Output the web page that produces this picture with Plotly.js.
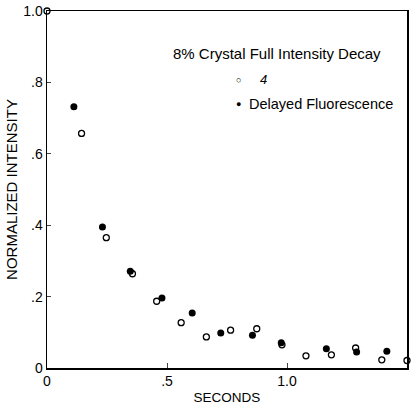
<!DOCTYPE html>
<html><head><meta charset="utf-8">
<script src="https://cdn.plot.ly/plotly-3.0.1.min.js"></script>
<style>html,body{margin:0;padding:0;background:#fff}#chart{width:411px;height:408px}</style>
</head><body><div id="chart"></div>
<script>
// Open circles (full intensity decay)
const openX = [0.0, 0.144, 0.247, 0.356, 0.457, 0.559, 0.664, 0.765, 0.874, 0.979, 1.079, 1.185, 1.286, 1.395, 1.5];
const openY = [1.0, 0.657, 0.365, 0.264, 0.187, 0.127, 0.087, 0.106, 0.110, 0.065, 0.034, 0.037, 0.056, 0.023, 0.021];
// Filled circles (delayed fluorescence)
const fillX = [0.112, 0.231, 0.347, 0.479, 0.605, 0.724, 0.856, 0.976, 1.164, 1.29, 1.416];
const fillY = [0.732, 0.395, 0.271, 0.196, 0.154, 0.098, 0.092, 0.071, 0.054, 0.045, 0.047];
const xTickVals = [0, 0.5, 1.0, 1.5];
const xTickText = ["0", ".5", "1.0", "1.5"];
const yTickVals = [0, 0.2, 0.4, 0.6, 0.8, 1.0];
const yTickText = ["0", ".2", ".4", ".6", ".8", "1.0"];

const font = "Liberation Sans, Arial, sans-serif";
const traces = [
  {x: openX, y: openY, mode: "markers", type: "scatter", cliponaxis: false, name: "4",
   marker: {symbol: "circle-open", size: 6, color: "#000", line: {width: 1.3, color: "#000"}}},
  {x: fillX, y: fillY, mode: "markers", type: "scatter", cliponaxis: false, name: "Delayed Fluorescence",
   marker: {symbol: "circle", size: 7, color: "#000"}}
];
const layout = {
  width: 411, height: 408,
  margin: {l: 47, r: 4, t: 11, b: 40},
  paper_bgcolor: "#fff", plot_bgcolor: "#fff",
  showlegend: false,
  font: {family: font, color: "#000", size: 13},
  xaxis: {range: [0, 1.5], tickvals: xTickVals, ticktext: xTickText, ticks: "inside", ticklen: 5,
    showgrid: false, zeroline: false, showline: true, mirror: true, linecolor: "#000", linewidth: 1.5,
    tickfont: {size: 14}, title: {text: "SECONDS", font: {size: 13.5}, standoff: 4}},
  yaxis: {range: [0, 1.0], tickvals: yTickVals, ticktext: yTickText, ticks: "inside", ticklen: 4,
    showgrid: false, zeroline: false, showline: true, mirror: true, linecolor: "#000", linewidth: 1.5,
    tickfont: {size: 14}, title: {text: "NORMALIZED INTENSITY", font: {size: 15}, standoff: 2}},
  annotations: [
    {xref: "paper", yref: "paper", x: 0.640, y: 0.882, text: "8% Crystal Full Intensity Decay",
     showarrow: false, xanchor: "center", yanchor: "middle", font: {size: 15}},
    {xref: "paper", yref: "paper", x: 0.531, y: 0.807, text: "○", showarrow: false,
     xanchor: "center", yanchor: "middle", font: {size: 9}},
    {xref: "paper", yref: "paper", x: 0.60, y: 0.807, text: "<i>4</i>", showarrow: false,
     xanchor: "center", yanchor: "middle", font: {size: 13}},
    {xref: "paper", yref: "paper", x: 0.531, y: 0.739, text: "●", showarrow: false,
     xanchor: "center", yanchor: "middle", font: {size: 9}},
    {xref: "paper", yref: "paper", x: 0.556, y: 0.739, text: "Delayed Fluorescence", showarrow: false,
     xanchor: "left", yanchor: "middle", font: {size: 14.5}}
  ]
};
Plotly.newPlot("chart", traces, layout, {displayModeBar: false, staticPlot: true});
</script></body></html>
